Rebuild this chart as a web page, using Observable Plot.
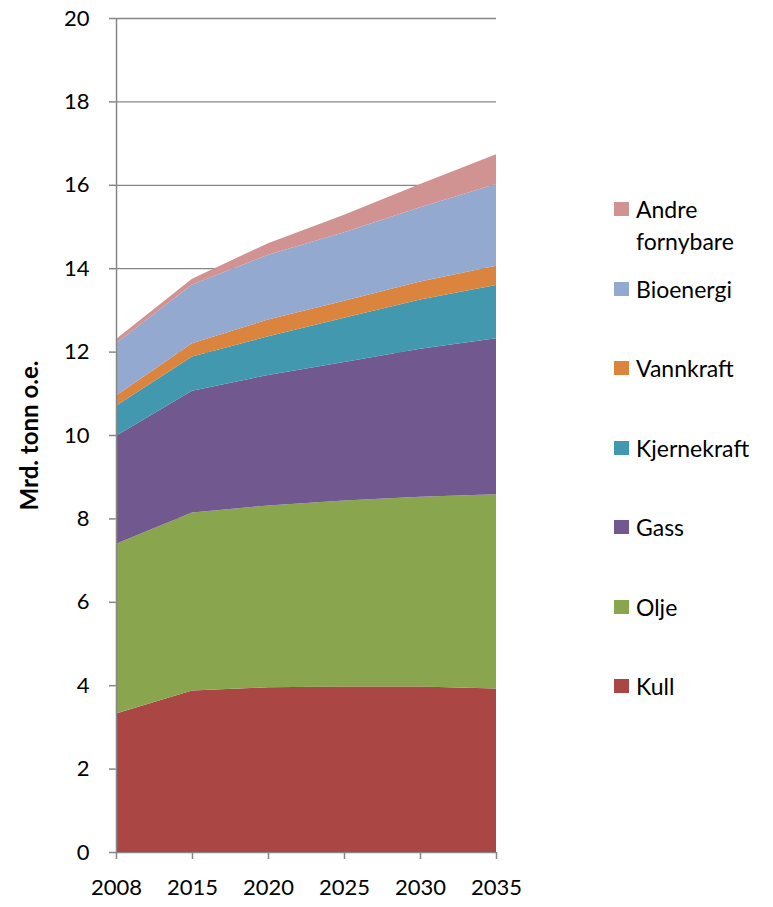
<!DOCTYPE html>
<html>
<head>
<meta charset="utf-8">
<script src="https://cdn.jsdelivr.net/npm/d3@7"></script>
<script src="https://cdn.jsdelivr.net/npm/@observablehq/plot@0.6"></script>
<style>
  body { margin: 0; background: #fff; }
  #wrap { position: relative; width: 773px; height: 907px; font-family: Lato, "Open Sans", sans-serif; }
  .leg { position: absolute; left: 614px; display: flex; align-items: flex-start; font-size: 23px; color: #000; }
  .sw { width: 15px; height: 14px; margin-right: 7px; flex: none; }
  .lt { line-height: 32px; margin-top: -9px; }
</style>
</head>
<body>
<div id="wrap"></div>
<script>
const years = ["2008", "2015", "2020", "2025", "2030", "2035"];
const series = ["Kull", "Olje", "Gass", "Kjernekraft", "Vannkraft", "Bioenergi", "Andre fornybare"];
const colors = ["#AA4643", "#89A54E", "#71588F", "#4198AF", "#DB843D", "#93A9CF", "#D19392"];
const kull = [3.32, 3.87, 3.95, 3.97, 3.97, 3.92];
const olje = [4.07, 4.27, 4.36, 4.46, 4.55, 4.66];
const gass = [2.59, 2.92, 3.13, 3.32, 3.55, 3.74];
const kjernekraft = [0.72, 0.82, 0.93, 1.06, 1.18, 1.28];
const vannkraft = [0.25, 0.32, 0.40, 0.41, 0.43, 0.46];
const bioenergi = [1.25, 1.41, 1.55, 1.64, 1.78, 1.96];
const andre = [0.10, 0.14, 0.28, 0.42, 0.56, 0.71];
const yTicks = [0, 2, 4, 6, 8, 10, 12, 14, 16, 18, 20];

const valuesBySeries = [kull, olje, gass, kjernekraft, vannkraft, bioenergi, andre];
const data = [];
series.forEach((s, si) => years.forEach((y, yi) => data.push({year: y, type: s, value: valuesBySeries[si][yi]})));

const chart = Plot.plot({
  width: 773,
  height: 907,
  marginLeft: 115,
  marginRight: 277,
  marginTop: 18,
  marginBottom: 55,
  style: {fontFamily: "Lato, 'Open Sans', sans-serif", fontSize: "22px", color: "#000", background: "#fff"},
  x: {type: "point", domain: years, padding: 0},
  y: {domain: [0, 20]},
  color: {domain: series, range: colors},
  marks: [
    Plot.ruleY(yTicks, {stroke: "#868686", strokeWidth: 1.3, strokeOpacity: 1}),
    Plot.areaY(data, {x: "year", y: "value", z: "type", fill: "type", order: series, fillOpacity: 1}),
    Plot.ruleX([years[0]], {stroke: "#868686", strokeWidth: 1.5}),
    Plot.axisY({ticks: yTicks, tickSize: 6, tickPadding: 20, stroke: "#868686", strokeWidth: 1.5, strokeOpacity: 1, label: null, fontSize: 22}),
    Plot.axisX({tickSize: 7, tickPadding: 20, stroke: "#868686", strokeWidth: 1.5, strokeOpacity: 1, label: null, fontSize: 22}),
    Plot.text(["Mrd. tonn o.e."], {frameAnchor: "left", dx: -85, rotate: -90, textAnchor: "middle", fontWeight: "bold", fontSize: 24, fill: "#000"})
  ]
});

const wrap = document.getElementById("wrap");
wrap.appendChild(chart);

const legendOrder = series.slice().reverse();
const legendColors = colors.slice().reverse();
legendOrder.forEach((name, i) => {
  const item = document.createElement("div");
  item.className = "leg";
  item.style.top = (202 + i * 79.5) + "px";
  const sw = document.createElement("div");
  sw.className = "sw";
  sw.style.background = legendColors[i];
  const t = document.createElement("div");
  t.className = "lt";
  t.innerHTML = name === "Andre fornybare" ? "Andre<br>fornybare" : name;
  item.appendChild(sw);
  item.appendChild(t);
  wrap.appendChild(item);
});
</script>
</body>
</html>
